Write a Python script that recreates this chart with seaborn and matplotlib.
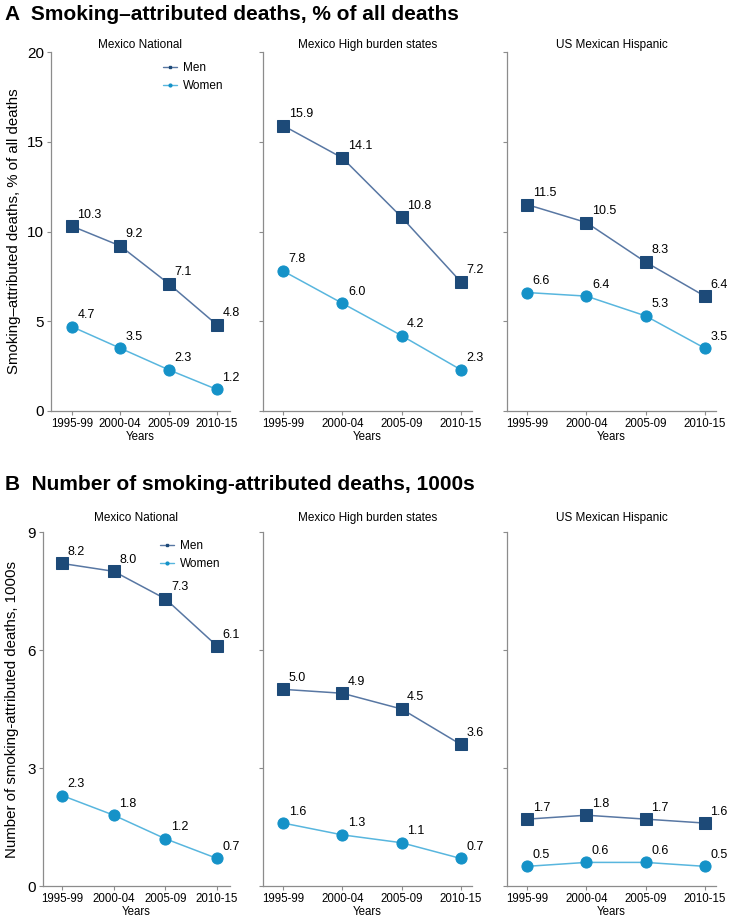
import numpy as np
import pandas as pd
import seaborn as sns
import matplotlib.pyplot as plt
from matplotlib.lines import Line2D

# ---- data ----
PERIODS = ['1995-99', '2000-04', '2005-09', '2010-15']
REGIONS = ['Mexico National', 'Mexico High burden states', 'US Mexican Hispanic']

# panel A: smoking-attributed deaths, % of all deaths
pct_men_national = [10.3, 9.2, 7.1, 4.8]
pct_women_national = [4.7, 3.5, 2.3, 1.2]
pct_men_high = [15.9, 14.1, 10.8, 7.2]
pct_women_high = [7.8, 6.0, 4.2, 2.3]
pct_men_us = [11.5, 10.5, 8.3, 6.4]
pct_women_us = [6.6, 6.4, 5.3, 3.5]

# panel B: number of smoking-attributed deaths, 1000s
num_men_national = [8.2, 8.0, 7.3, 6.1]
num_women_national = [2.3, 1.8, 1.2, 0.7]
num_men_high = [5.0, 4.9, 4.5, 3.6]
num_women_high = [1.6, 1.3, 1.1, 0.7]
num_men_us = [1.7, 1.8, 1.7, 1.6]
num_women_us = [0.5, 0.6, 0.6, 0.5]

MEN_LINE, MEN_MARK = '#5877a3', '#1d4a78'
WOMEN_LINE, WOMEN_MARK = '#58b6de', '#1592c8'
SPINE = '#8c8c8c'


def build_df(men, women):
    rows = []
    for reg, m, w in zip(REGIONS, men, women):
        for p, v in zip(PERIODS, m):
            rows.append((reg, 'Men', p, v))
        for p, v in zip(PERIODS, w):
            rows.append((reg, 'Women', p, v))
    return pd.DataFrame(rows, columns=['region', 'sex', 'period', 'value'])


df_pct = build_df([pct_men_national, pct_men_high, pct_men_us],
                  [pct_women_national, pct_women_high, pct_women_us])
df_num = build_df([num_men_national, num_men_high, num_men_us],
                  [num_women_national, num_women_high, num_women_us])

sns.set_style('white')
plt.rcParams['font.family'] = ['Liberation Sans', 'DejaVu Sans']
plt.rcParams['text.color'] = 'black'
plt.rcParams['axes.labelcolor'] = 'black'

fig = plt.figure(figsize=(7.29, 9.19), dpi=100)
W, H = 729, 919


def px_axes(left, right, top, bottom):
    return fig.add_axes([left / W, 1 - bottom / H, (right - left) / W, (bottom - top) / H])


def draw_panel(ax, sub, ylim, yticks, xlim, show_ylab):
    styles = {'Men': (MEN_LINE, MEN_MARK, 's'), 'Women': (WOMEN_LINE, WOMEN_MARK, 'o')}
    for sex, (lc, mc, mk) in styles.items():
        d = sub[sub['sex'] == sex]
        sns.lineplot(data=d, x='period', y='value', ax=ax, color=lc, lw=1.1,
                     marker=mk, markersize=8, markerfacecolor=mc,
                     markeredgecolor=mc, sort=False)
        for i, v in enumerate(d['value']):
            ax.annotate(f'{v:.1f}', (i, v), xytext=(4, 4), textcoords='offset points',
                        ha='left', va='bottom', fontsize=9, color='black')
    ax.set_ylim(*ylim)
    ax.set_xlim(*xlim)
    ax.set_yticks(yticks)
    ax.set_xticks(range(len(PERIODS)))
    ax.set_xticklabels(PERIODS, fontsize=8.3)
    if show_ylab:
        ax.set_yticklabels([str(t) for t in yticks], fontsize=11)
    else:
        ax.set_yticklabels([])
    ax.tick_params(axis='both', direction='out', length=3, width=0.8, color=SPINE, pad=2,
                   labelcolor='black', left=True, bottom=True)
    for s in ['top', 'right']:
        ax.spines[s].set_visible(False)
    for s in ['left', 'bottom']:
        ax.spines[s].set_color(SPINE)
        ax.spines[s].set_linewidth(0.9)
    ax.spines['left'].set_bounds(yticks[0], yticks[-1])
    ax.set_xlabel('Years', fontsize=8.3, labelpad=1)
    ax.set_ylabel('')
    if ax.get_legend():
        ax.get_legend().remove()


def add_legend(ax, y):
    handles = [Line2D([], [], color=MEN_LINE, marker='s', markersize=2,
                      markerfacecolor=MEN_MARK, markeredgecolor=MEN_MARK, lw=1),
               Line2D([], [], color=WOMEN_LINE, marker='o', markersize=2,
                      markerfacecolor=WOMEN_MARK, markeredgecolor=WOMEN_MARK, lw=1)]
    ax.legend(handles, ['Men', 'Women'], loc='upper left', bbox_to_anchor=(0.6, y),
              frameon=False, fontsize=8.5, handlelength=1.2, handletextpad=0.5,
              labelspacing=0.5, borderaxespad=0)


# ---- panel A ----
geom_a = [(51, 230, (-0.43, 3.27)), (263, 472, (-0.34, 3.19)), (507, 716, (-0.34, 3.19))]
for i, (reg, (l, r, xl)) in enumerate(zip(REGIONS, geom_a)):
    ax = px_axes(l, r, 52, 411)
    draw_panel(ax, df_pct[df_pct['region'] == reg], (0, 20), [0, 5, 10, 15, 20], xl, i == 0)
    ax.set_title(reg, fontsize=8.5, pad=3)
    if i == 0:
        ax.set_ylabel('Smoking\u2013attributed deaths, % of all deaths', fontsize=10.8, labelpad=4)
        add_legend(ax, 0.985)

# ---- panel B ----
geom_b = [(43, 230, (-0.37, 3.25)), (263, 472, (-0.34, 3.19)), (507, 716, (-0.34, 3.19))]
for i, (reg, (l, r, xl)) in enumerate(zip(REGIONS, geom_b)):
    ax = px_axes(l, r, 532, 886)
    draw_panel(ax, df_num[df_num['region'] == reg], (0, 9), [0, 3, 6, 9], xl, i == 0)
    ax.set_title(reg, fontsize=8.5, pad=8)
    if i == 0:
        ax.set_ylabel('Number of smoking-attributed deaths, 1000s', fontsize=10.8, labelpad=6)
        add_legend(ax, 0.99)

fig.text(5 / W, 1 - 14 / H, 'A  Smoking\u2013attributed deaths, % of all deaths',
         fontsize=15, fontweight='bold', va='center', ha='left')
fig.text(5 / W, 1 - 484 / H, 'B  Number of smoking-attributed deaths, 1000s',
         fontsize=15, fontweight='bold', va='center', ha='left')

fig.savefig('out.png', dpi=100)
